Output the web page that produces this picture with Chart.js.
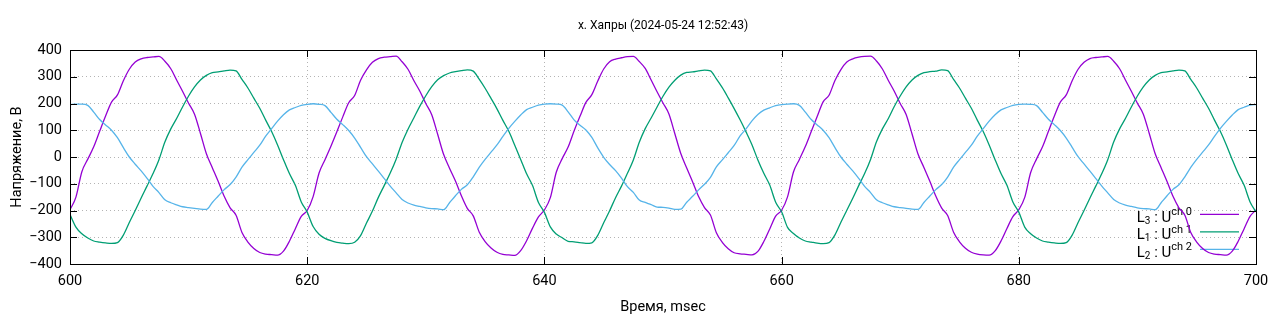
<!DOCTYPE html>
<html>
<head>
<meta charset="utf-8">
<script src="https://cdn.jsdelivr.net/npm/chart.js@4/dist/chart.umd.min.js"></script>
<style>
  html, body { margin: 0; padding: 0; background: #fff; }
  #wrap { width: 1280px; height: 320px; }
</style>
</head>
<body>
<div id="wrap"><canvas id="scope" width="1280" height="320"></canvas></div>
<script>
// sample times, msec
var times = [
  600, 600.5, 601, 601.5, 602, 602.5, 603, 603.5, 604, 604.5, 605, 605.5, 606, 606.5, 607, 607.5, 608, 608.5, 609, 609.5,
  610, 610.5, 611, 611.5, 612, 612.5, 613, 613.5, 614, 614.5, 615, 615.5, 616, 616.5, 617, 617.5, 618, 618.5, 619, 619.5,
  620, 620.5, 621, 621.5, 622, 622.5, 623, 623.5, 624, 624.5, 625, 625.5, 626, 626.5, 627, 627.5, 628, 628.5, 629, 629.5,
  630, 630.5, 631, 631.5, 632, 632.5, 633, 633.5, 634, 634.5, 635, 635.5, 636, 636.5, 637, 637.5, 638, 638.5, 639, 639.5,
  640, 640.5, 641, 641.5, 642, 642.5, 643, 643.5, 644, 644.5, 645, 645.5, 646, 646.5, 647, 647.5, 648, 648.5, 649, 649.5,
  650, 650.5, 651, 651.5, 652, 652.5, 653, 653.5, 654, 654.5, 655, 655.5, 656, 656.5, 657, 657.5, 658, 658.5, 659, 659.5,
  660, 660.5, 661, 661.5, 662, 662.5, 663, 663.5, 664, 664.5, 665, 665.5, 666, 666.5, 667, 667.5, 668, 668.5, 669, 669.5,
  670, 670.5, 671, 671.5, 672, 672.5, 673, 673.5, 674, 674.5, 675, 675.5, 676, 676.5, 677, 677.5, 678, 678.5, 679, 679.5,
  680, 680.5, 681, 681.5, 682, 682.5, 683, 683.5, 684, 684.5, 685, 685.5, 686, 686.5, 687, 687.5, 688, 688.5, 689, 689.5,
  690, 690.5, 691, 691.5, 692, 692.5, 693, 693.5, 694, 694.5, 695, 695.5, 696, 696.5, 697, 697.5, 698, 698.5, 699, 699.5,
  700
];

// L3 : U ch 0 (purple)
var uch0 = [
  -197, -150, -55, -8, 38, 96, 153, 205, 232, 285, 328, 355, 367, 372, 374, 376, 358, 330, 287, 245,
  201, 160, 88, 12, -40, -92, -147, -190, -218, -282, -318, -342, -357, -363, -365, -367, -352, -315, -268, -222,
  -200, -148, -60, -10, 40, 94, 150, 203, 230, 287, 326, 354, 368, 373, 375, 377, 356, 328, 285, 246,
  200, 158, 85, 10, -42, -90, -145, -192, -220, -280, -316, -340, -356, -364, -366, -368, -350, -313, -266, -224,
  -198, -152, -57, -6, 37, 97, 152, 204, 233, 284, 329, 356, 366, 371, 375, 376, 357, 331, 288, 244,
  202, 161, 87, 13, -41, -93, -148, -189, -217, -283, -319, -343, -358, -362, -364, -366, -353, -316, -269, -221,
  -199, -149, -56, -9, 39, 95, 151, 206, 231, 286, 327, 355, 367, 373, 376, 377, 359, 329, 286, 246,
  200, 159, 86, 11, -39, -91, -146, -191, -219, -281, -317, -341, -356, -363, -366, -367, -351, -314, -267, -223,
  -197, -151, -58, -7, 38, 96, 153, 205, 232, 285, 328, 354, 368, 372, 374, 376, 358, 330, 287, 245,
  201, 160, 88, 12, -40, -92, -147, -190, -218, -282, -318, -342, -357, -363, -365, -367, -352, -315, -268, -222,
  -198
];

// L1 : U ch 1 (green)
var uch1 = [
  -215, -262, -287, -303, -314, -318, -321, -323, -320, -292, -245, -200, -153, -108, -62, -10, 56, 105, 145, 188,
  228, 262, 288, 305, 315, 318, 322, 325, 322, 290, 258, 220, 182, 138, 95, 45, -10, -62, -106, -168,
  -206, -260, -289, -304, -313, -319, -322, -324, -319, -294, -247, -202, -151, -106, -60, -8, 54, 104, 147, 190,
  229, 263, 289, 304, 314, 319, 323, 326, 321, 291, 257, 219, 180, 137, 96, 44, -9, -63, -107, -170,
  -207, -261, -288, -302, -315, -317, -320, -323, -321, -293, -246, -201, -152, -109, -61, -11, 55, 106, 146, 187,
  227, 261, 287, 306, 316, 318, 322, 325, 322, 292, 259, 221, 181, 139, 94, 46, -11, -61, -105, -169,
  -205, -263, -286, -303, -314, -318, -322, -324, -320, -291, -244, -199, -154, -107, -62, -9, 57, 105, 144, 189,
  228, 262, 288, 305, 315, 319, 321, 326, 323, 290, 258, 220, 182, 138, 95, 45, -10, -62, -106, -168,
  -206, -262, -287, -303, -314, -318, -321, -323, -320, -292, -245, -200, -153, -108, -62, -10, 56, 105, 145, 188,
  228, 262, 288, 305, 315, 318, 322, 325, 322, 290, 258, 220, 182, 138, 95, 45, -10, -62, -106, -168,
  -205
];

// L2 : U ch 2 (blue)
var uch2 = [
  196, 198, 198, 193, 168, 140, 120, 100, 72, 35, 0, -27, -52, -80, -110, -133, -160, -171, -179, -186,
  -189, -192, -195, -196, -170, -146, -122, -103, -75, -38, -10, 17, 44, 78, 106, 134, 158, 176, 185, 193,
  197, 199, 197, 192, 167, 141, 121, 99, 71, 36, 1, -26, -53, -81, -109, -134, -159, -172, -180, -185,
  -190, -193, -194, -197, -171, -145, -121, -104, -74, -39, -9, 18, 45, 77, 107, 133, 157, 177, 186, 194,
  198, 199, 198, 194, 169, 139, 119, 101, 73, 34, -1, -28, -51, -79, -111, -132, -161, -170, -178, -187,
  -188, -191, -196, -195, -169, -147, -123, -102, -76, -37, -11, 16, 43, 79, 105, 135, 159, 175, 184, 192,
  196, 198, 199, 193, 168, 140, 120, 100, 72, 35, 0, -27, -52, -80, -110, -133, -160, -171, -179, -186,
  -189, -192, -195, -196, -170, -146, -122, -103, -75, -38, -10, 17, 44, 78, 106, 134, 158, 176, 185, 193,
  197, 198, 197, 192, 167, 141, 121, 99, 71, 36, 1, -26, -53, -81, -109, -134, -159, -172, -180, -185,
  -190, -193, -194, -197, -171, -145, -121, -104, -74, -39, -9, 18, 45, 77, 107, 133, 157, 177, 186, 194,
  196
];

var channels = [
  { phase: "3", ch: "ch 0", color: "#9400d3", values: uch0 },
  { phase: "1", ch: "ch 1", color: "#009e73", values: uch1 },
  { phase: "2", ch: "ch 2", color: "#56b4e9", values: uch2 }
];

var titleText = "х. Хапры (2024-05-24 12:52:43)";

function toPoints(values) {
  return times.map(function (t, i) { return { x: t, y: values[i] }; });
}

// gnuplot-like frame: box, inward ticks, title and key
var framePlugin = {
  id: "frame",
  beforeDatasetsDraw: function (chart) {
    var ctx = chart.ctx;
    var a = chart.chartArea;
    ctx.save();
    // key, bottom right inside the plot
    var rightText = a.right - 64;
    for (var i = 0; i < channels.length; i++) {
      var c = channels[i];
      var lineY = a.bottom - 49.7 + i * 17.5;
      var base = lineY + 7.4;
      ctx.font = "15px Roboto";
      var wL = ctx.measureText("L").width;
      var wU = ctx.measureText(" : U").width;
      ctx.font = "10px Roboto";
      var wSub = ctx.measureText(c.phase).width;
      ctx.font = "11px Roboto";
      var wSup = ctx.measureText(c.ch).width;
      var x0 = rightText - (wL + wSub + wU + wSup);
      ctx.fillStyle = "#000";
      ctx.textBaseline = "alphabetic";
      ctx.textAlign = "left";
      ctx.font = "15px Roboto";
      ctx.fillText("L", x0, base);
      ctx.font = "10px Roboto";
      ctx.fillText(c.phase, x0 + wL, base + 1.8);
      ctx.font = "15px Roboto";
      ctx.fillText(" : U", x0 + wL + wSub, base);
      ctx.font = "11px Roboto";
      ctx.fillText(c.ch, x0 + wL + wSub + wU, base - 6.6);
      ctx.strokeStyle = c.color;
      ctx.lineWidth = 1.3;
      ctx.beginPath();
      ctx.moveTo(a.right - 56, lineY);
      ctx.lineTo(a.right - 17, lineY);
      ctx.stroke();
    }
    ctx.restore();
  },
  afterDatasetsDraw: function (chart) {
    var ctx = chart.ctx;
    var a = chart.chartArea;
    var xs = chart.scales.x;
    var ys = chart.scales.y;
    ctx.save();
    ctx.strokeStyle = "#000";
    ctx.lineWidth = 1;
    ctx.strokeRect(Math.round(a.left) + 0.5, Math.round(a.top) + 0.5,
      Math.round(a.right) - Math.round(a.left), Math.round(a.bottom) - Math.round(a.top));
    ctx.beginPath();
    xs.ticks.forEach(function (t) {
      var px = Math.round(xs.getPixelForValue(t.value)) + 0.5;
      ctx.moveTo(px, a.bottom); ctx.lineTo(px, a.bottom - 7);
      ctx.moveTo(px, a.top); ctx.lineTo(px, a.top + 7);
    });
    ys.ticks.forEach(function (t) {
      var py = Math.round(ys.getPixelForValue(t.value)) + 0.5;
      ctx.moveTo(a.left, py); ctx.lineTo(a.left + 7, py);
      ctx.moveTo(a.right, py); ctx.lineTo(a.right - 7, py);
    });
    ctx.stroke();
    // title
    ctx.fillStyle = "#000";
    ctx.font = "12px Roboto";
    ctx.textAlign = "center";
    ctx.textBaseline = "middle";
    ctx.fillText(titleText, (a.left + a.right) / 2, 26);
    ctx.restore();
  }
};

Chart.defaults.font.family = "Roboto";
Chart.defaults.color = "#000";

new Chart(document.getElementById("scope"), {
  type: "line",
  data: {
    datasets: channels.map(function (c, i) {
      return {
        label: "L" + c.phase + " : U" + c.ch,
        data: toPoints(c.values),
        borderColor: c.color,
        backgroundColor: c.color,
        borderWidth: 1.3,
        pointRadius: 0,
        cubicInterpolationMode: "monotone",
        fill: false,
        order: channels.length - i
      };
    })
  },
  options: {
    responsive: false,
    animation: false,
    devicePixelRatio: 1,
    layout: { padding: { left: 5, right: 24, top: 50, bottom: 0 } },
    plugins: {
      legend: { display: false },
      title: { display: false },
      tooltip: { enabled: false }
    },
    scales: {
      x: {
        type: "linear",
        min: 600,
        max: 700,
        ticks: { stepSize: 20, padding: 9, font: { size: 14.5 }, maxRotation: 0 },
        grid: { color: "#b4b4b4", drawTicks: false, lineWidth: 1 },
        border: { display: false, dash: [1, 3] },
        title: { display: true, text: "Время, msec", font: { size: 14.5 }, padding: { top: 4, bottom: 4 } },
        afterFit: function (s) { s.height = 56; }
      },
      y: {
        min: -400,
        max: 400,
        ticks: {
          stepSize: 100,
          padding: 8,
          font: { size: 14.5 },
          callback: function (v) { return v < 0 ? "\u2212" + (-v) : String(v); }
        },
        grid: { color: "#b4b4b4", drawTicks: false, lineWidth: 1 },
        border: { display: false, dash: [1, 3] },
        title: { display: true, text: "Напряжение, В", font: { size: 14.5 }, padding: { top: 4, bottom: 4 } },
        afterFit: function (s) { s.width = 65; }
      }
    }
  },
  plugins: [framePlugin]
});
</script>
</body>
</html>
